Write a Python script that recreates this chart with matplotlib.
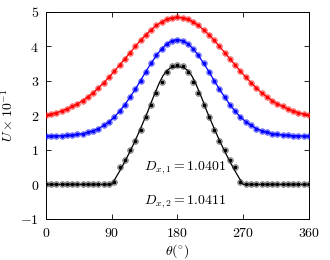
import numpy as np
import matplotlib
matplotlib.use("Agg")
import matplotlib.pyplot as plt

plt.rcParams['mathtext.fontset'] = 'cm'
plt.rcParams['font.family'] = 'serif'
plt.rcParams['font.serif'] = ['DejaVu Serif']

# half-profiles (0 -> 180 deg), mirrored for 180 -> 360
theta_m = [i * 7.2 for i in range(51)]
red_half = [2.01, 2.04, 2.08, 2.13, 2.19, 2.26, 2.34, 2.43, 2.54, 2.66, 2.80, 2.95, 3.11,
            3.28, 3.46, 3.64, 3.82, 4.00, 4.18, 4.34, 4.48, 4.61, 4.71, 4.79, 4.83, 4.85]
blue_half = [1.40, 1.40, 1.41, 1.41, 1.42, 1.43, 1.45, 1.47, 1.51, 1.56, 1.62, 1.71, 1.82,
             1.95, 2.12, 2.31, 2.53, 2.76, 3.01, 3.27, 3.51, 3.74, 3.93, 4.08, 4.17, 4.20]
black_half = [0, 0, 0, 0, 0, 0, 0, 0, 0, 0, 0, 0, 0,
              0.08, 0.50, 0.70, 1.00, 1.25, 1.58, 1.95, 2.30, 2.65, 2.98, 3.25, 3.42, 3.45]
red = red_half + red_half[-2::-1]
blue = blue_half + blue_half[-2::-1]
black = black_half + black_half[-2::-1]

theta_l = [i * 5 for i in range(73)]
exact_half = [0, 0, 0, 0, 0, 0, 0, 0, 0, 0, 0, 0, 0, 0, 0, 0, 0, 0, 0,
              0.17, 0.35, 0.54, 0.74, 0.95, 1.17, 1.40, 1.64, 1.89, 2.14, 2.42, 2.68,
              2.93, 3.14, 3.29, 3.37, 3.40, 3.41]
exact = exact_half + exact_half[-2::-1]

xticks = [0, 90, 180, 270, 360]
yticks = [-1, 0, 1, 2, 3, 4, 5]

fig = plt.figure(figsize=(3.3, 2.6), dpi=100)
ax = fig.add_axes([0.139, 0.158, 0.797, 0.796])

def series(y, c, face, lw=0.9):
    ax.plot(theta_m, y, '-', color=c, lw=lw, zorder=2)
    ax.plot(theta_m, y, 'o', ms=4.2, mfc=face, mec=c, mew=0.5, alpha=0.45, ls='none', zorder=3)
    ax.plot(theta_m, y, 'o', ms=1.6, color=c, ls='none', zorder=4)

series(red, 'red', 'red')
series(blue, 'blue', 'blue')
ax.plot(theta_l, exact, '-', color='black', lw=0.9, zorder=2)
ax.plot(theta_m, black, 'o', ms=4.2, mfc='#555555', mec='black', mew=0.5, alpha=0.45, ls='none', zorder=3)
ax.plot(theta_m, black, 'o', ms=1.6, color='black', ls='none', zorder=4)

ax.set_xlim(0, 360)
ax.set_ylim(-1, 5)
ax.set_xticks(xticks)
ax.set_yticks(yticks)
ax.set_xticklabels([f'${v}$' for v in xticks], fontsize=10)
ax.set_yticklabels([f'${v}$' for v in yticks], fontsize=10)
ax.tick_params(direction='in', length=3.5, width=0.6, top=True, right=True, pad=5)
for s in ax.spines.values():
    s.set_linewidth(0.7)
ax.set_xlabel(r'$\theta(^{\circ})$', fontsize=10, labelpad=2)
ax.set_ylabel(r'$U\times 10^{-1}$', fontsize=10, labelpad=3)
ax.text(135, 0.5, r'$D_{x,1}=1.0401$', fontsize=10, va='center', ha='left')
ax.text(135, -0.5, r'$D_{x,2}=1.0411$', fontsize=10, va='center', ha='left')

fig.savefig('out.png', dpi=100)
